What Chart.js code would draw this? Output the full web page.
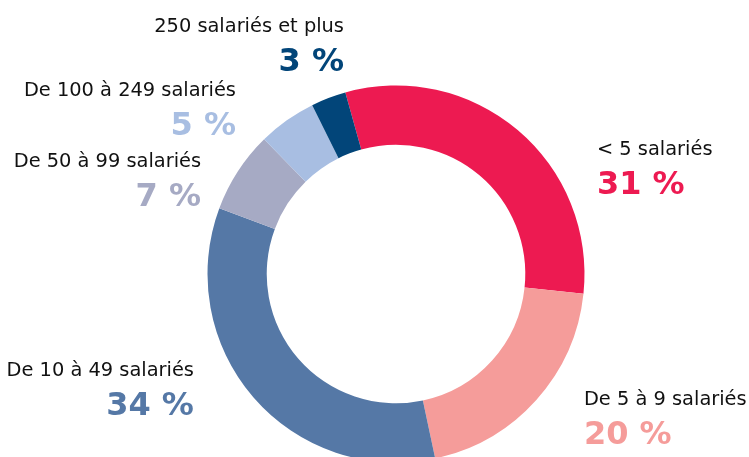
<!DOCTYPE html>
<html lang="fr">
<head>
<meta charset="utf-8">
<script src="https://cdn.jsdelivr.net/npm/chart.js@4"></script>
<style>
  html, body { margin: 0; padding: 0; background: #fff; overflow: hidden; }
  #wrap { width: 749px; height: 457px; position: relative; }
</style>
</head>
<body>
<div id="wrap"><canvas id="chart"></canvas></div>
<script>
const categories = [
  '< 5 salariés',
  'De 5 à 9 salariés',
  'De 10 à 49 salariés',
  'De 50 à 99 salariés',
  'De 100 à 249 salariés',
  '250 salariés et plus',
];
const shares = [31, 20, 34, 7, 5, 3];
const colors = ['#ED1A51', '#F59C9A', '#5578A6', '#A6AAC4', '#A8BEE2', '#024579'];

// label anchors, relative to the ring centre in units of the outer radius
const labelAnchors = [
  { dx: 1.066, dy: -0.631, align: 'left' },
  { dx: 0.997, dy: 0.695, align: 'left' },
  { dx: -1.072, dy: 0.541, align: 'right' },
  { dx: -1.034, dy: -0.568, align: 'right' },
  { dx: -0.849, dy: -0.944, align: 'right' },
  { dx: -0.276, dy: -1.284, align: 'right' },
];

const sliceLabels = {
  id: 'sliceLabels',
  afterDatasetsDraw(chart) {
    const arc = chart.getDatasetMeta(0).data[0];
    if (!arc) return;
    const ctx = chart.ctx;
    const r = arc.outerRadius;
    ctx.save();
    ctx.textBaseline = 'alphabetic';
    categories.forEach((name, i) => {
      const a = labelAnchors[i];
      const x = arc.x + a.dx * r;
      const y = arc.y + a.dy * r;
      ctx.textAlign = a.align;
      ctx.fillStyle = '#111';
      ctx.font = "19.4px 'DejaVu Sans', sans-serif";
      ctx.fillText(name, x, y);
      ctx.fillStyle = colors[i];
      ctx.font = "bold 32px 'DejaVu Sans', sans-serif";
      ctx.fillText(shares[i] + ' %', x, y + 39);
    });
    ctx.restore();
  },
};

new Chart(document.getElementById('chart'), {
  type: 'doughnut',
  data: {
    labels: categories,
    datasets: [
      {
        data: shares,
        backgroundColor: colors,
        borderWidth: 0,
        clip: false,
      },
    ],
  },
  options: {
    responsive: true,
    maintainAspectRatio: false,
    animation: false,
    rotation: -15.6,
    radius: 188.5,
    cutout: 125.5,
    layout: { padding: { left: 43, right: 0, top: 91, bottom: 0 } },
    plugins: {
      legend: { display: false },
      tooltip: { enabled: false },
    },
  },
  plugins: [sliceLabels],
});
</script>
</body>
</html>
